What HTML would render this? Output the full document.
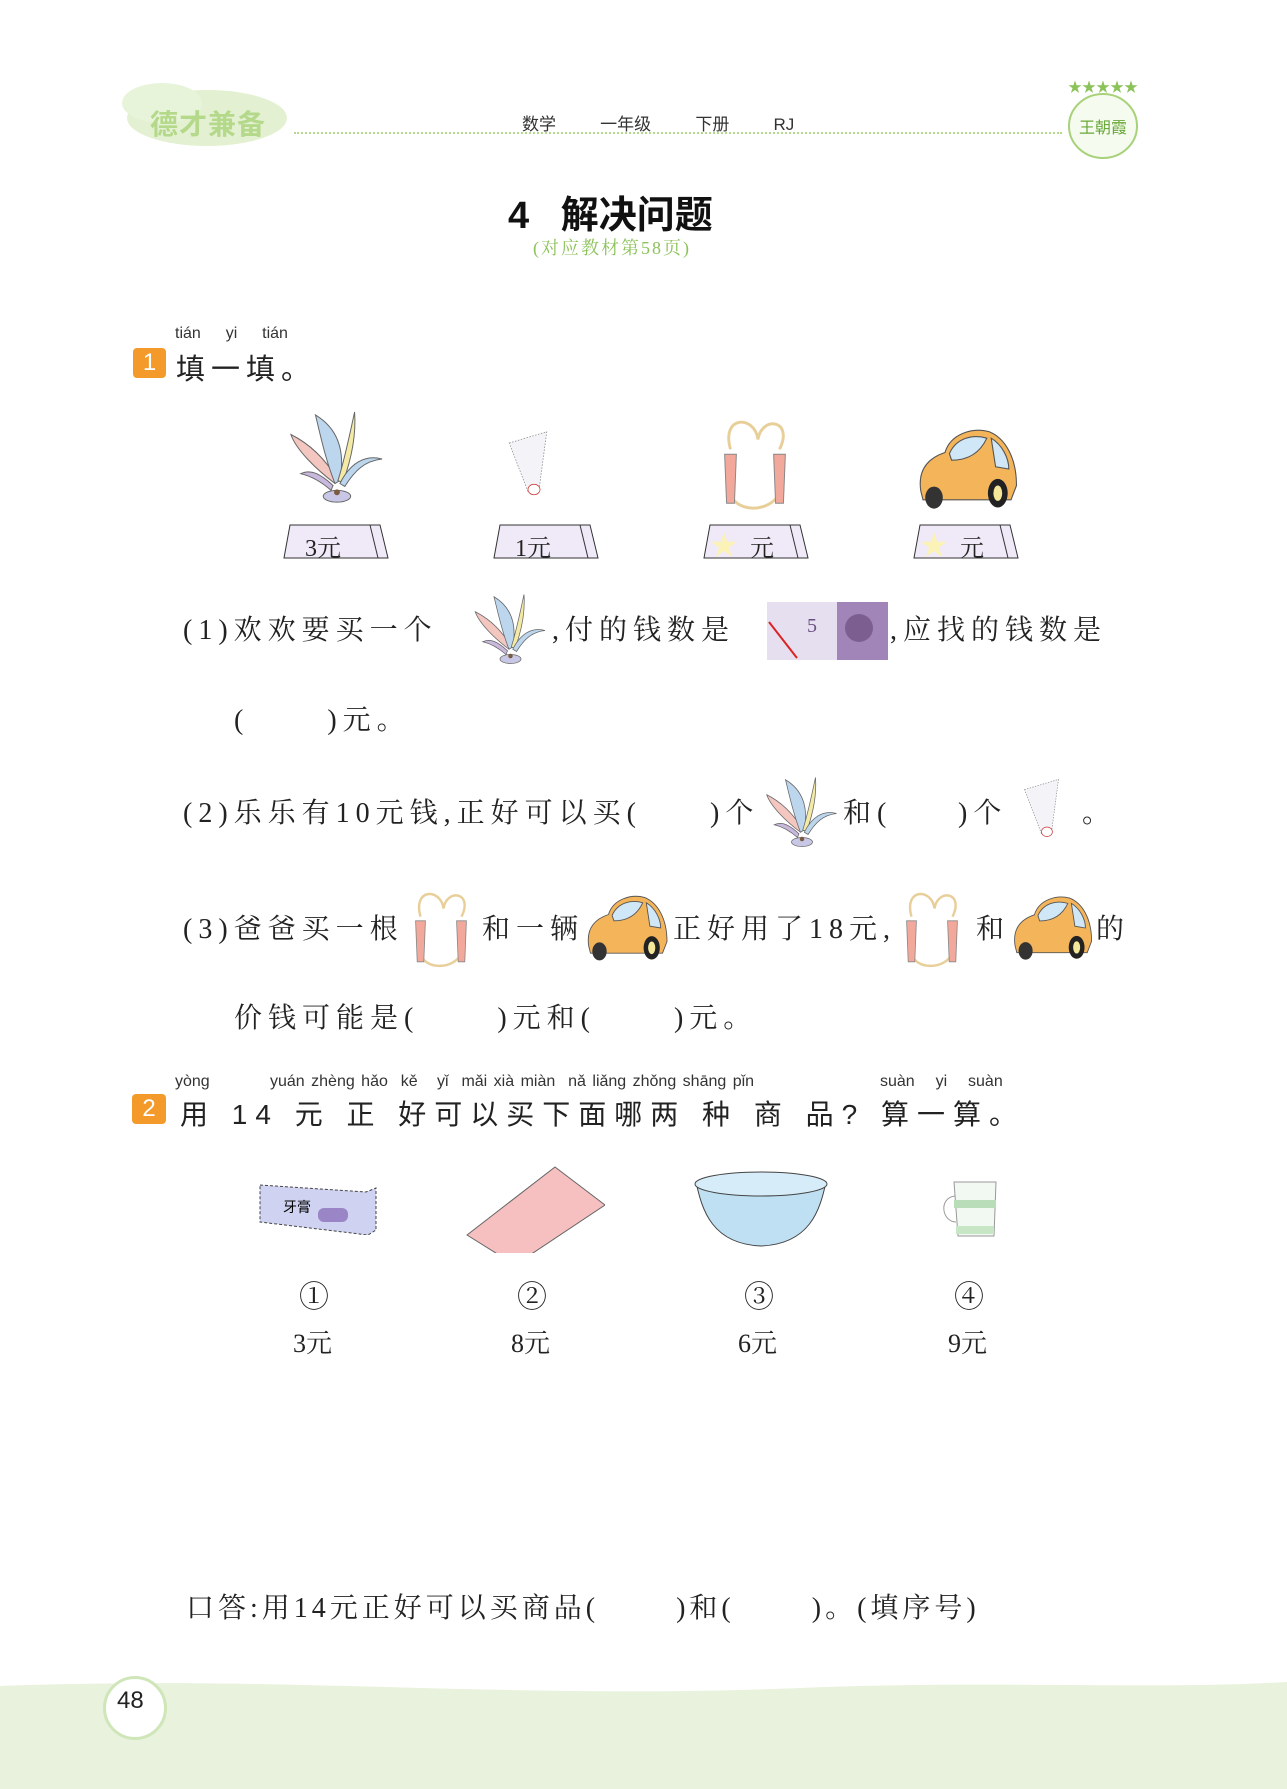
<!DOCTYPE html>
<html><head><meta charset="utf-8"><style>
body{margin:0;background:#fff}
#p{position:relative;width:1287px;height:1789px;overflow:hidden;background:#fff;font-family:"Liberation Serif","Noto Serif CJK SC",serif;color:#222}
.a{position:absolute;white-space:nowrap}
.q{font-size:28px;letter-spacing:6px;line-height:1}
.s{font-family:"Liberation Sans","Noto Sans CJK SC",sans-serif}
.py{font-family:"Liberation Sans",sans-serif;font-size:16px;color:#333}
.tag{position:absolute;width:108px;height:36px}
</style></head><body><div id="p">
<svg width="0" height="0" style="position:absolute">
<defs>
<symbol id="shut" viewBox="0 0 100 100">
<path d="M50 75 C30 60 10 40 5 25 C25 35 40 50 52 70Z" fill="#f3c6c0" stroke="#666" stroke-width="1"/>
<path d="M50 75 C40 50 35 25 30 5 C55 20 60 45 55 72Z" fill="#bcd6ee" stroke="#666" stroke-width="1"/>
<path d="M53 72 C60 50 65 25 70 2 C72 30 65 55 58 74Z" fill="#f4eaa6" stroke="#666" stroke-width="1"/>
<path d="M55 75 C65 55 80 45 98 50 C80 52 70 62 60 78Z" fill="#bcd6ee" stroke="#666" stroke-width="1"/>
<path d="M48 77 C35 65 25 60 15 65 C28 68 38 75 46 82Z" fill="#c9b8dd" stroke="#666" stroke-width="1"/>
<ellipse cx="52" cy="88" rx="14" ry="6" fill="#c8c8e6" stroke="#666"/>
<circle cx="52" cy="84" r="3" fill="#7a5a40"/>
</symbol>
<symbol id="bad" viewBox="0 0 60 100">
<path d="M5 20 L55 5 L45 80 L30 85 Z" fill="#f4f4f8" stroke="#888" stroke-width="1" stroke-dasharray="2 2"/>
<ellipse cx="38" cy="82" rx="8" ry="7" fill="#fff" stroke="#c33"/>
</symbol>
<symbol id="rope" viewBox="0 0 90 100">
<path d="M20 35 C10 0 45 0 48 25 C52 0 85 5 70 35" fill="none" stroke="#e8cf9a" stroke-width="3"/>
<path d="M20 80 C25 100 60 100 70 80" fill="none" stroke="#e8cf9a" stroke-width="3"/>
<path d="M14 40 L26 40 L24 90 L16 90 Z" fill="#f2a89a" stroke="#888"/>
<path d="M64 40 L76 40 L74 90 L66 90 Z" fill="#f2a89a" stroke="#888"/>
</symbol>
<symbol id="car" viewBox="0 0 100 80">
<path d="M8 60 C5 40 15 30 30 25 C35 8 55 2 70 6 C85 12 95 30 95 55 L90 68 L10 68Z" fill="#f4b45a" stroke="#555"/>
<path d="M34 26 C40 12 55 8 68 12 C62 25 52 32 36 32Z" fill="#cfe7f6" stroke="#555"/>
<path d="M72 12 C82 18 88 30 88 40 L76 38 Z" fill="#cfe7f6" stroke="#555"/>
<ellipse cx="78" cy="62" rx="9" ry="13" fill="#222"/><ellipse cx="78" cy="62" rx="4" ry="7" fill="#f4e79a"/>
<ellipse cx="20" cy="66" rx="8" ry="10" fill="#333"/>
</symbol>
<symbol id="tagS" viewBox="0 0 108 36">
<path d="M8 2 L98 2 L106 35 L2 35 Z" fill="#f0eaf8" stroke="#333"/>
<path d="M88 2 L96 35" stroke="#333" fill="none"/>
</symbol>
</defs></svg>

<!-- header -->
<svg class="a" style="left:112px;top:78px" width="190" height="70"><ellipse cx="95" cy="40" rx="80" ry="28" fill="#e3f1d2"/><ellipse cx="50" cy="25" rx="40" ry="20" fill="#e8f4da"/></svg>
<div class="a s" style="left:150px;top:103px;font-size:28px;font-weight:bold;color:#b5d98a;letter-spacing:1px">德才兼备</div>
<div class="a s" style="left:522px;top:110px;font-size:17px;color:#333;word-spacing:10px">数学&nbsp;&nbsp;&nbsp;一年级&nbsp;&nbsp;&nbsp;下册&nbsp;&nbsp;&nbsp;RJ</div>
<div class="a" style="left:294px;top:132px;width:768px;border-top:2px dotted #b5d98a"></div>
<svg class="a" style="left:1063px;top:78px" width="80" height="85"><text x="40" y="14" text-anchor="middle" fill="#8cc25a" font-size="14">★★★★★</text><ellipse cx="40" cy="48" rx="34" ry="32" fill="#f6fbef" stroke="#a8d27a" stroke-width="2"/><text x="40" y="55" text-anchor="middle" fill="#6aa83a" font-size="16" font-family="Noto Sans CJK SC">王朝霞</text></svg>

<div class="a s" style="left:508px;top:184px;font-size:38px;font-weight:bold;color:#111">4&nbsp;&nbsp;&nbsp;解决问题</div>
<div class="a" style="left:533px;top:234px;font-size:18px;color:#8cc25a;letter-spacing:2px">(对应教材第58页)</div>

<!-- Q1 -->
<div class="a py" style="left:175px;top:325px;word-spacing:8px">tián&nbsp; yi&nbsp; tián</div>
<div class="a s" style="left:133px;top:348px;width:33px;height:30px;background:#f39a2a;border-radius:4px;color:#fff;font-size:24px;text-align:center;line-height:30px">1</div>
<div class="a s" style="left:176px;top:346px;font-size:29px;letter-spacing:6px">填一填。</div>

<svg class="a" style="left:280px;top:410px" width="110" height="98"><use href="#shut"/></svg>
<svg class="a" style="left:498px;top:428px" width="60" height="75"><use href="#bad"/></svg>
<svg class="a" style="left:705px;top:415px" width="100" height="98"><use href="#rope"/></svg>
<svg class="a" style="left:912px;top:425px" width="110" height="88"><use href="#car"/></svg>

<svg class="tag" style="left:282px;top:523px"><use href="#tagS"/></svg>
<div class="a" style="left:305px;top:528px;font-size:24px">3元</div>
<svg class="tag" style="left:492px;top:523px"><use href="#tagS"/></svg>
<div class="a" style="left:515px;top:528px;font-size:24px">1元</div>
<svg class="tag" style="left:702px;top:523px"><use href="#tagS"/></svg>
<div class="a" style="left:710px;top:524px;font-size:28px;color:#fbf2b8">★</div><div class="a" style="left:750px;top:528px;font-size:24px">元</div>
<svg class="tag" style="left:912px;top:523px"><use href="#tagS"/></svg>
<div class="a" style="left:920px;top:524px;font-size:28px;color:#fbf2b8">★</div><div class="a" style="left:960px;top:528px;font-size:24px">元</div>

<!-- (1) -->
<div class="a q" style="left:183px;top:617px">(1)欢欢要买一个</div>
<svg class="a" style="left:466px;top:593px" width="86" height="75"><use href="#shut"/></svg>
<div class="a q" style="left:552px;top:617px">,付的钱数是</div>
<svg class="a" style="left:767px;top:602px" width="121" height="58"><rect width="121" height="58" fill="#e6dff0"/><rect x="70" y="0" width="51" height="58" fill="#a184b8"/><circle cx="92" cy="26" r="14" fill="#7d5e90"/><text x="40" y="30" font-size="20" fill="#6a5080">5</text><line x1="2" y1="20" x2="30" y2="56" stroke="#d22" stroke-width="2"/></svg>
<div class="a q" style="left:890px;top:617px">,应找的钱数是</div>
<div class="a q" style="left:234px;top:707px">(&nbsp;&nbsp;&nbsp;&nbsp;&nbsp;&nbsp;)元。</div>

<!-- (2) -->
<div class="a q" style="left:183px;top:800px">(2)乐乐有10元钱,正好可以买(</div>
<div class="a q" style="left:710px;top:800px">)个</div>
<svg class="a" style="left:758px;top:776px" width="85" height="75"><use href="#shut"/></svg>
<div class="a q" style="left:843px;top:800px">和(</div>
<div class="a q" style="left:958px;top:800px">)个</div>
<svg class="a" style="left:1013px;top:776px" width="57" height="68"><use href="#bad"/></svg>
<div class="a q" style="left:1082px;top:800px">。</div>

<!-- (3) -->
<div class="a q" style="left:183px;top:916px">(3)爸爸买一根</div>
<svg class="a" style="left:402px;top:888px" width="78" height="82"><use href="#rope"/></svg>
<div class="a q" style="left:482px;top:916px">和一辆</div>
<svg class="a" style="left:580px;top:892px" width="93" height="72"><use href="#car"/></svg>
<div class="a q" style="left:673px;top:916px">正好用了18元,</div>
<svg class="a" style="left:892px;top:888px" width="80" height="82"><use href="#rope"/></svg>
<div class="a q" style="left:976px;top:916px">和</div>
<svg class="a" style="left:1008px;top:892px" width="88" height="72"><use href="#car"/></svg>
<div class="a q" style="left:1096px;top:916px">的</div>
<div class="a q" style="left:234px;top:1005px">价钱可能是(&nbsp;&nbsp;&nbsp;&nbsp;&nbsp;&nbsp;)元和(&nbsp;&nbsp;&nbsp;&nbsp;&nbsp;&nbsp;)元。</div>

<!-- Q2 -->
<div class="a py" style="left:175px;top:1073px">yòng</div>
<div class="a py" style="left:270px;top:1073px;word-spacing:2px">yuán zhèng hǎo &nbsp;kě &nbsp;&nbsp;yǐ &nbsp;mǎi xià miàn &nbsp;nǎ liǎng zhǒng shāng pǐn</div>
<div class="a py" style="left:880px;top:1073px;word-spacing:6px">suàn &nbsp;yi &nbsp;suàn</div>
<div class="a s" style="left:132px;top:1094px;width:34px;height:30px;background:#f39a2a;border-radius:4px;color:#fff;font-size:24px;text-align:center;line-height:30px">2</div>
<div class="a s" style="left:180px;top:1093px;font-size:28px;letter-spacing:8px">用 14 元 正 好可以买下面哪两 种 商 品? 算一算。</div>

<svg class="a" style="left:258px;top:1180px" width="120" height="55"><path d="M2 5 L108 12 L118 8 L118 50 L110 55 L2 42Z" fill="#cfd2f0" stroke="#444" stroke-dasharray="3 2"/><rect x="60" y="28" width="30" height="14" rx="6" fill="#9a86c6"/><text x="25" y="32" font-size="14" font-family="Noto Sans CJK SC">牙膏</text></svg>
<svg class="a" style="left:465px;top:1165px" width="140" height="88"><path d="M2 70 L90 2 L140 40 L50 100Z" fill="#f5c0bf" stroke="#666"/></svg>
<svg class="a" style="left:692px;top:1170px" width="138" height="78"><path d="M4 12 C10 40 20 74 69 76 C118 74 128 40 134 12Z" fill="#bfe0f3" stroke="#444"/><ellipse cx="69" cy="14" rx="66" ry="12" fill="#d6ecf8" stroke="#444"/></svg>
<svg class="a" style="left:942px;top:1178px" width="60" height="62"><path d="M12 4 L54 4 L52 58 L16 58Z" fill="#f2f8f2" stroke="#999"/><rect x="12" y="22" width="42" height="8" fill="#b9ddb9"/><rect x="14" y="48" width="38" height="8" fill="#c6e6c6"/><path d="M13 18 C-4 20 0 44 14 44" fill="none" stroke="#999"/></svg>

<div class="a" style="left:299px;top:1272px;font-size:30px">①</div>
<div class="a" style="left:517px;top:1272px;font-size:30px">②</div>
<div class="a" style="left:744px;top:1272px;font-size:30px">③</div>
<div class="a" style="left:954px;top:1272px;font-size:30px">④</div>
<div class="a" style="left:293px;top:1323px;font-size:26px">3元</div>
<div class="a" style="left:511px;top:1323px;font-size:26px">8元</div>
<div class="a" style="left:738px;top:1323px;font-size:26px">6元</div>
<div class="a" style="left:948px;top:1323px;font-size:26px">9元</div>

<div class="a q" style="left:186px;top:1595px;letter-spacing:4px">口答:用14元正好可以买商品(&nbsp;&nbsp;&nbsp;&nbsp;&nbsp;&nbsp;&nbsp;)和(&nbsp;&nbsp;&nbsp;&nbsp;&nbsp;&nbsp;&nbsp;)。(填序号)</div>

<!-- footer -->
<svg class="a" style="left:0;top:1670px" width="1287" height="119"><path d="M0 16 C300 5 500 30 800 18 C1000 10 1150 20 1287 12 L1287 119 L0 119Z" fill="#e8f2dc"/></svg>
<div class="a" style="left:103px;top:1676px;width:58px;height:58px;border-radius:50%;background:#fff;border:3px solid #cfe6b8"></div>
<div class="a s" style="left:117px;top:1687px;font-size:24px;color:#222">48</div>
</div></body></html>
